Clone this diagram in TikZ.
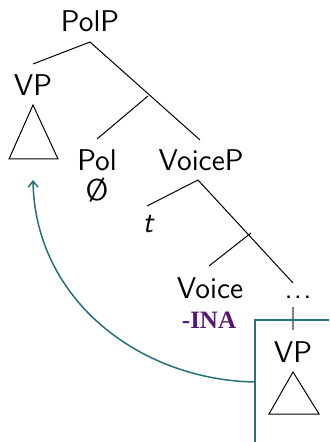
\documentclass[tikz,border=0pt]{standalone}
\usepackage{fontspec}
\newfontfamily\inafont{Liberation Serif}
\usetikzlibrary{arrows.meta}
\definecolor{teal1}{RGB}{38,112,122}
\definecolor{purp}{RGB}{88,22,118}
\tikzset{
  lbl/.style={font=\sffamily\fontsize{15}{17}\selectfont, inner sep=0pt},
  br/.style={draw=black, line width=0.5pt},
  tri/.style={draw=black, line width=0.5pt},
  mv/.style={draw=teal1, line width=0.75pt},
}
\begin{document}
\begin{tikzpicture}[x=0.5pt,y=-0.5pt]
\useasboundingbox (0,0) rectangle (329,442);
% labels
\node[lbl] (polp) at (90,21) {PolP};
\node[lbl] (vp1) at (33,85) {VP};
\node[lbl] (pol) at (97,160) {Pol};
\node[lbl] (null) at (97,190) {Ø};
\node[lbl] (voicep) at (201,160) {VoiceP};
\node[lbl] (t) at (148,224) {\itshape t};
\node[lbl] (voice) at (210,288) {Voice};
\node[inner sep=0pt, font=\inafont\bfseries\fontsize{12.5}{14}\selectfont, text=purp] (ina) at (209,320) {-INA};
\node[lbl, anchor=base] (dots) at (298,298) {.\kern0.6pt.\kern0.6pt.};
\node[lbl] (vp2) at (293,352) {VP};
% coordinates
\coordinate (a0) at (90,42);
\coordinate (vp1t) at (33,64);
\coordinate (b1) at (148,96);
\coordinate (polt) at (97,139);
\coordinate (vpt) at (200,140);
\coordinate (a1) at (198,180);
\coordinate (tt) at (147,206);
\coordinate (b2) at (251,233);
\coordinate (voicet) at (209,266);
\coordinate (dotst) at (293,283);
\coordinate (g1) at (293,307);
\coordinate (g2) at (293,330);
% tree branches
\draw[br] (vp1t) -- (a0) -- (vpt);
\draw[br] (b1) -- (polt);
\draw[br] (tt) -- (a1) -- (dotst);
\draw[br] (b2) -- (voicet);
\draw[draw=gray, line width=0.6pt] (g1) -- (g2);
% triangles
\coordinate (t1a) at (33,105);
\coordinate (t1b) at (9,159);
\coordinate (t1c) at (58,159);
\draw[tri] (t1a) -- (t1b) -- (t1c) -- cycle;
\coordinate (t2a) at (293,372);
\coordinate (t2b) at (269,414);
\coordinate (t2c) at (319,414);
\draw[tri] (t2a) -- (t2b) -- (t2c) -- cycle;
% box
\coordinate (bx1) at (329,320);
\coordinate (bx2) at (255,442);
\draw[mv] (bx1) -| (bx2);
% movement arrow
\coordinate (ms) at (255,382);
\coordinate (me) at (33,180);
\draw[mv, -{Straight Barb[length=3pt,width=5pt]}] (ms) .. controls (140,380) and (35,300) .. (me);
\end{tikzpicture}
\end{document}
